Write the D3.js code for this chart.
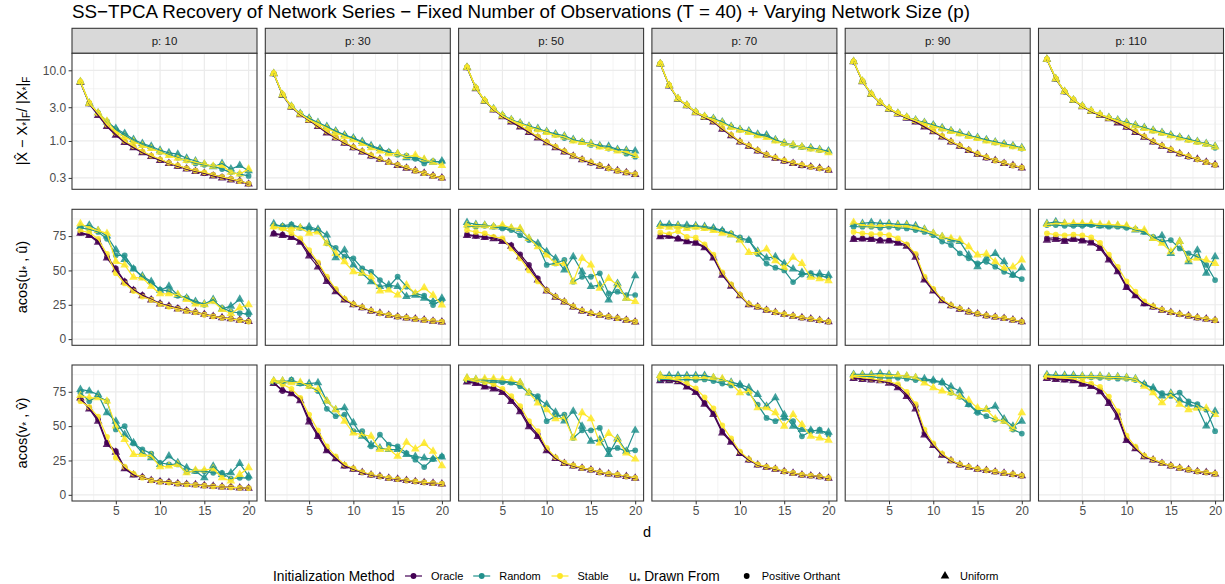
<!DOCTYPE html>
<html>
<head>
<meta charset="utf-8">
<script src="https://cdn.jsdelivr.net/npm/d3@7"></script>
<style>
  body { margin: 0; background: #fff; }
  svg { font-family: "Liberation Sans", Arial, sans-serif; }
</style>
</head>
<body>
<svg id="svg" width="1225" height="584"></svg>
<script>
// ---- data ----
const dValues = [1, 2, 3, 4, 5, 6, 7, 8, 9, 10, 11, 12, 13, 14, 15, 16, 17, 18, 19, 20];
const networkSizes = [10, 30, 50, 70, 90, 110];
const methods = ["Oracle", "Random", "Stable"];
const drawnFrom = ["Positive Orthant", "Uniform"];
const errTicks = [0.3, 1, 3, 10];
const angleTicks = [0, 25, 50, 75];
const dTicks = [5, 10, 15, 20];

// row 1: relative Frobenius error, one array per network size (p = 10 ... 110)
const errOracleOrth = [
  [6.8, 3.4, 2.4, 1.65, 1.25, 0.98, 0.82, 0.70, 0.61, 0.54, 0.49, 0.44, 0.41, 0.38, 0.35, 0.33, 0.31, 0.29, 0.27, 0.25],
  [9.0, 4.5, 3.05, 2.4, 1.98, 1.64, 1.34, 1.12, 0.95, 0.81, 0.71, 0.62, 0.555, 0.50, 0.46, 0.42, 0.38, 0.35, 0.32, 0.30],
  [11.0, 5.6, 3.7, 2.8, 2.25, 1.9, 1.62, 1.36, 1.14, 0.96, 0.82, 0.71, 0.62, 0.55, 0.49, 0.45, 0.41, 0.38, 0.36, 0.34],
  [12.4, 6.1, 3.95, 3.2, 2.55, 2.2, 1.9, 1.5, 1.2, 0.98, 0.85, 0.73, 0.64, 0.57, 0.52, 0.49, 0.45, 0.43, 0.41, 0.39],
  [13.3, 7.0, 4.6, 3.5, 2.85, 2.45, 2.15, 1.9, 1.62, 1.38, 1.16, 0.98, 0.85, 0.74, 0.65, 0.58, 0.53, 0.49, 0.45, 0.42],
  [14.3, 7.6, 5.0, 3.8, 3.1, 2.65, 2.35, 2.1, 1.85, 1.6, 1.35, 1.15, 0.98, 0.85, 0.75, 0.66, 0.60, 0.55, 0.50, 0.46]
];
const errOracleUnif = [
  [6.7, 3.35, 2.3, 1.6, 1.2, 0.95, 0.80, 0.68, 0.60, 0.53, 0.48, 0.44, 0.40, 0.37, 0.35, 0.32, 0.30, 0.28, 0.27, 0.245],
  [8.9, 4.4, 3.0, 2.35, 1.95, 1.6, 1.3, 1.1, 0.93, 0.80, 0.70, 0.61, 0.55, 0.50, 0.45, 0.41, 0.38, 0.35, 0.32, 0.30],
  [10.9, 5.5, 3.65, 2.75, 2.2, 1.86, 1.58, 1.32, 1.1, 0.94, 0.80, 0.70, 0.61, 0.54, 0.49, 0.44, 0.41, 0.38, 0.355, 0.335],
  [12.3, 6.0, 3.9, 3.15, 2.5, 2.15, 1.85, 1.46, 1.18, 0.97, 0.84, 0.72, 0.63, 0.57, 0.52, 0.48, 0.45, 0.43, 0.41, 0.385],
  [13.2, 6.9, 4.55, 3.45, 2.8, 2.4, 2.1, 1.85, 1.58, 1.35, 1.14, 0.97, 0.84, 0.73, 0.65, 0.58, 0.53, 0.48, 0.45, 0.415],
  [14.2, 7.5, 4.95, 3.75, 3.05, 2.6, 2.3, 2.06, 1.8, 1.56, 1.32, 1.13, 0.97, 0.84, 0.74, 0.66, 0.60, 0.55, 0.50, 0.46]
];
const errRandomOrth = [
  [6.8, 3.4, 2.5, 1.9, 1.45, 1.2, 1.0, 0.88, 0.80, 0.70, 0.64, 0.58, 0.53, 0.48, 0.46, 0.44, 0.40, 0.36, 0.34, 0.32],
  [9.0, 4.5, 3.05, 2.45, 2.05, 1.78, 1.56, 1.36, 1.2, 1.08, 0.95, 0.82, 0.76, 0.70, 0.64, 0.62, 0.56, 0.48, 0.52, 0.50],
  [11.0, 5.6, 3.7, 2.8, 2.3, 1.98, 1.78, 1.6, 1.46, 1.34, 1.22, 1.1, 1.02, 0.98, 0.88, 0.84, 0.78, 0.74, 0.66, 0.60],
  [12.4, 6.1, 3.95, 3.2, 2.55, 2.2, 2.05, 1.82, 1.58, 1.44, 1.34, 1.22, 1.16, 1.02, 0.92, 0.86, 0.82, 0.78, 0.74, 0.70],
  [13.3, 7.0, 4.6, 3.5, 2.85, 2.45, 2.15, 1.95, 1.8, 1.66, 1.5, 1.38, 1.28, 1.18, 1.1, 1.02, 0.95, 0.90, 0.84, 0.78],
  [14.3, 7.6, 5.0, 3.8, 3.1, 2.65, 2.35, 2.12, 1.95, 1.8, 1.65, 1.52, 1.4, 1.3, 1.2, 1.12, 1.04, 0.97, 0.90, 0.80]
];
const errRandomUnif = [
  [6.9, 3.45, 2.5, 1.85, 1.5, 1.28, 1.05, 0.92, 0.84, 0.74, 0.68, 0.65, 0.57, 0.52, 0.47, 0.43, 0.48, 0.40, 0.45, 0.38],
  [9.0, 4.5, 3.1, 2.45, 2.1, 1.82, 1.6, 1.38, 1.22, 1.1, 0.98, 0.86, 0.78, 0.69, 0.66, 0.58, 0.58, 0.54, 0.50, 0.52],
  [11.0, 5.6, 3.7, 2.85, 2.32, 2.0, 1.8, 1.62, 1.5, 1.36, 1.26, 1.18, 1.05, 0.96, 0.92, 0.86, 0.84, 0.76, 0.74, 0.72],
  [12.4, 6.1, 3.95, 3.2, 2.58, 2.22, 2.08, 1.86, 1.6, 1.46, 1.38, 1.25, 1.22, 1.04, 0.94, 0.88, 0.82, 0.80, 0.76, 0.72],
  [13.3, 7.0, 4.6, 3.5, 2.86, 2.47, 2.17, 1.98, 1.82, 1.68, 1.54, 1.4, 1.3, 1.2, 1.12, 1.04, 0.97, 0.91, 0.86, 0.80],
  [14.3, 7.6, 5.0, 3.8, 3.12, 2.67, 2.37, 2.15, 1.98, 1.82, 1.68, 1.55, 1.42, 1.32, 1.22, 1.13, 1.06, 0.98, 0.92, 0.84]
];
const errStableOrth = [
  [6.9, 3.5, 2.45, 1.7, 1.3, 1.0, 0.84, 0.71, 0.62, 0.55, 0.49, 0.45, 0.41, 0.38, 0.36, 0.33, 0.31, 0.29, 0.27, 0.25],
  [9.1, 4.6, 3.1, 2.42, 2.0, 1.66, 1.36, 1.13, 0.96, 0.82, 0.72, 0.63, 0.56, 0.50, 0.46, 0.42, 0.38, 0.35, 0.32, 0.30],
  [11.1, 5.7, 3.75, 2.85, 2.28, 1.93, 1.65, 1.38, 1.15, 0.97, 0.83, 0.72, 0.62, 0.55, 0.50, 0.45, 0.41, 0.38, 0.36, 0.34],
  [12.5, 6.2, 4.0, 3.22, 2.58, 2.22, 1.92, 1.52, 1.22, 0.99, 0.86, 0.74, 0.64, 0.58, 0.53, 0.49, 0.46, 0.43, 0.41, 0.39],
  [13.4, 7.1, 4.65, 3.52, 2.88, 2.48, 2.18, 1.93, 1.65, 1.4, 1.18, 0.99, 0.86, 0.75, 0.66, 0.59, 0.53, 0.49, 0.45, 0.42],
  [14.4, 7.7, 5.05, 3.85, 3.12, 2.68, 2.38, 2.12, 1.88, 1.62, 1.37, 1.16, 0.99, 0.86, 0.76, 0.67, 0.61, 0.55, 0.50, 0.46]
];
const errStableUnif = [
  [6.9, 3.4, 2.5, 1.9, 1.35, 1.15, 0.98, 0.86, 0.78, 0.70, 0.62, 0.57, 0.53, 0.50, 0.47, 0.44, 0.45, 0.36, 0.34, 0.40],
  [9.0, 4.5, 3.05, 2.4, 2.0, 1.76, 1.52, 1.32, 1.16, 1.04, 0.92, 0.80, 0.72, 0.66, 0.66, 0.60, 0.63, 0.55, 0.50, 0.45],
  [11.0, 5.6, 3.7, 2.8, 2.28, 1.96, 1.76, 1.58, 1.44, 1.32, 1.2, 1.14, 1.0, 0.95, 0.90, 0.82, 0.78, 0.72, 0.70, 0.62],
  [12.4, 6.1, 3.95, 3.2, 2.55, 2.2, 2.02, 1.8, 1.55, 1.42, 1.32, 1.18, 1.12, 1.0, 0.92, 0.88, 0.82, 0.77, 0.74, 0.68],
  [13.3, 7.0, 4.6, 3.5, 2.85, 2.45, 2.15, 1.94, 1.78, 1.62, 1.48, 1.36, 1.26, 1.16, 1.08, 1.0, 0.94, 0.88, 0.83, 0.78],
  [14.3, 7.6, 5.0, 3.8, 3.1, 2.65, 2.35, 2.12, 1.94, 1.78, 1.64, 1.5, 1.38, 1.28, 1.18, 1.1, 1.02, 0.96, 0.90, 0.82]
];

// row 2: angle between u* and u-hat (degrees)
const angUOracleOrth = [
  [77.5, 76, 71.5, 60, 51.5, 42, 36, 32, 29, 26, 24, 22.5, 21, 19.7, 18, 16.8, 15.6, 15, 14, 13],
  [77, 76, 74.5, 71.5, 62.5, 55, 44, 35.7, 29, 25.3, 23.1, 20.5, 18.8, 17.6, 16.4, 15.6, 14.7, 14, 13.2, 12.7],
  [76.2, 75.2, 74.5, 73.8, 72, 68.5, 61.7, 54, 44.2, 35.7, 31, 27.3, 23.6, 20.5, 18.8, 17.6, 16.4, 15.2, 14, 12.7],
  [75.2, 75.2, 73.3, 71.4, 70.4, 67.2, 60, 47.9, 39.4, 32.1, 25.3, 23.6, 21.2, 19.5, 18.1, 16.8, 15.6, 14.7, 13.7, 12.7],
  [73.3, 73.3, 73.3, 72.1, 72.1, 70.4, 68.5, 61.2, 44.2, 35.7, 28.5, 24.4, 22, 20, 18.5, 17.1, 16.1, 15.2, 14, 12.7],
  [73.3, 73.8, 72.1, 73.3, 72.1, 70.9, 67.2, 58.8, 50.3, 38.2, 32.1, 26, 23.6, 21.2, 19.5, 18.1, 16.9, 15.6, 14.7, 13.7]
];
const angUOracleUnif = [
  [77, 75.5, 70.5, 59, 50.5, 41.5, 35.5, 31.5, 28.5, 25.5, 24, 22, 20.5, 19.5, 18, 16.5, 15.5, 14.8, 13.8, 12.8],
  [76.5, 75.5, 74, 70.5, 60.5, 52.5, 42, 34.5, 28.5, 25, 22.8, 20.5, 18.8, 17.4, 16.2, 15.4, 14.6, 13.9, 13, 12.4],
  [75.5, 74.8, 74, 73, 71, 67.5, 60, 52, 43, 35, 30.5, 27, 23.4, 20.5, 18.6, 17.4, 16.2, 15, 13.8, 12.5],
  [74.5, 74.8, 72.8, 70.8, 69.8, 66.5, 59, 46.5, 38.5, 31.5, 25, 23.4, 21, 19.4, 18, 16.7, 15.5, 14.6, 13.6, 12.6],
  [72.5, 72.8, 72.5, 71.5, 71.5, 69.8, 67.5, 59.5, 43, 35, 28, 24.2, 21.8, 19.8, 18.4, 17, 16, 15.1, 13.9, 12.6],
  [72, 72.5, 71, 72.5, 71.5, 70, 66, 57.5, 49, 37.5, 31.5, 25.8, 23.4, 21, 19.4, 18, 16.8, 15.5, 14.6, 13.6]
];
const angURandomOrth = [
  [81, 80, 78, 73, 61, 61, 51.5, 45, 41, 36, 35, 31.5, 30, 26.5, 25, 28, 22.8, 20, 19, 18],
  [82.5, 82.5, 83.5, 81, 80, 79.4, 69.7, 66.5, 60, 58.8, 51.5, 49, 43, 38.2, 45.4, 38.2, 33.3, 31.6, 24.8, 28.5],
  [82.5, 81.8, 82.5, 81.8, 80.6, 79.4, 75.7, 72.1, 68.5, 54, 55.1, 57.6, 41.8, 45.4, 45.4, 47.9, 33.3, 34.5, 32.1, 32.1],
  [82.5, 82.5, 82, 81.5, 82, 81, 80, 79, 77, 74, 72, 62, 55, 52, 50, 41.5, 47, 48, 46, 45],
  [81.8, 81.8, 81.8, 81, 81.8, 81, 80.6, 79.4, 78, 75.7, 71, 68.5, 62.4, 58.8, 55.1, 56.3, 52.7, 49, 46.6, 43.7],
  [83, 83, 82.5, 82.5, 82.5, 83, 82.5, 81.8, 81.8, 81, 80, 78, 74.5, 71, 72.1, 66, 62.4, 60, 54, 43]
];
const angURandomUnif = [
  [82, 83, 79, 75, 65, 58, 51, 46, 42, 35.5, 38.5, 32, 30, 27.5, 25.5, 28.8, 22, 24, 29, 19.5],
  [84, 81.8, 82.5, 81, 81.8, 80, 75.7, 59.3, 64.8, 54, 47.9, 41.8, 38.2, 39.4, 38.2, 31, 32, 29.7, 27.3, 29.7],
  [84.9, 83.5, 83, 81.8, 81.5, 80.6, 80, 73.3, 69.7, 63.6, 58.8, 50.3, 60, 49, 38.2, 39.4, 28.5, 40.6, 29.7, 46.2],
  [83.5, 83.5, 83, 83, 82.5, 82, 81, 79, 76, 72.5, 72, 64, 59, 60, 55, 51, 48.5, 46.5, 47.5, 46.5],
  [83.5, 84.2, 85, 84.2, 84.2, 83.5, 83.5, 82.5, 80, 77, 74.5, 72.1, 71, 61.2, 52.7, 58.8, 62.4, 56.3, 46.6, 52],
  [84.2, 85.4, 84.2, 83.5, 83.5, 83.5, 82.5, 82.5, 82.5, 81.8, 79.4, 78, 73.3, 75.2, 62.4, 71, 56.3, 64.8, 47.9, 60]
];
const angUStableOrth = [
  [79, 77.5, 73, 62, 48, 40.5, 35, 31, 28.5, 25.5, 23.5, 22, 20.5, 19.5, 17.8, 16.5, 15.5, 14.8, 13.8, 12.8],
  [81.8, 80.6, 77, 73.3, 64.8, 55.9, 45.5, 36.5, 29.5, 25.5, 23.2, 20.8, 18.9, 17.6, 16.4, 15.6, 14.7, 14, 13.2, 12.7],
  [79.4, 78, 77, 74.5, 73.3, 66, 58.8, 50, 42, 35.5, 31, 27.4, 23.8, 20.8, 18.9, 17.6, 16.4, 15.2, 14, 12.7],
  [77.7, 76.5, 78.6, 74.5, 73.8, 69, 61.5, 48.5, 39.8, 32.3, 25.6, 23.7, 21.3, 19.6, 18.2, 16.9, 15.7, 14.8, 13.8, 12.8],
  [78, 77, 76.5, 76.5, 75.7, 73.3, 69, 62, 45.5, 36.5, 29, 24.7, 22.2, 20.1, 18.6, 17.2, 16.2, 15.3, 14.1, 12.8],
  [77, 76, 75.5, 76, 75.5, 74, 70, 61.5, 52.5, 42, 34.5, 27.5, 24, 21.4, 19.7, 18.2, 17, 15.8, 14.8, 13.8]
];
const angUStableUnif = [
  [84, 81, 79, 77, 56.5, 54, 45, 44.5, 38.5, 33, 33, 32.5, 28.8, 25.5, 25, 27.6, 21.6, 18.7, 22.8, 25],
  [81.8, 81, 80.6, 81, 77, 78, 69.7, 62.4, 56.3, 49, 47.9, 45.4, 35, 35.7, 32.1, 39.4, 33.3, 37.4, 32, 24.8],
  [83, 82.5, 82.5, 81.8, 83, 81, 80.6, 73.3, 67.2, 61.2, 55.1, 55.1, 41.8, 58.8, 54, 37, 44.2, 39.4, 29.7, 27.3],
  [82, 81.5, 82, 80.5, 81.5, 80.5, 79, 77, 76, 72, 63, 63, 65.5, 57, 52, 59.5, 55, 45, 44, 42.5],
  [85, 83, 82.5, 82.5, 83, 82.5, 82.5, 81, 79.4, 77, 74.5, 73.3, 72.1, 67.2, 61.2, 62, 56.3, 51.5, 52.5, 57.6],
  [83.5, 84.2, 84.2, 84.2, 84.2, 84.2, 83.5, 83.5, 83, 82.5, 80, 79.4, 73.3, 69.7, 63.6, 71, 57.6, 58.8, 57.6, 55.1]
];

// row 3: angle between v* and v-hat (degrees)
const angVOracleOrth = [
  [69.4, 63.3, 55, 38, 31.8, 19.7, 14.8, 12.9, 10.7, 9.7, 9.2, 8.3, 7.8, 7.5, 6.8, 6.3, 5.8, 5.6, 5.1, 4.9],
  [81.6, 75.5, 74.3, 69.4, 54.8, 43.8, 32.9, 26.8, 21.2, 18.8, 16.3, 14.6, 13.4, 12.2, 11.4, 10.5, 9.7, 9, 8.5, 8],
  [82.8, 81.6, 79.1, 77.9, 75.5, 69.4, 62.1, 51.1, 43.8, 32.9, 26.8, 23.1, 21.2, 19.5, 18.3, 16.3, 15.3, 14.6, 13.4, 12.2],
  [83.5, 83.5, 82.8, 79.1, 75.5, 67, 59.7, 46.3, 39, 30.4, 25.6, 21.9, 20.2, 18.8, 17, 15.8, 14.6, 13.9, 13.4, 12.2],
  [85.2, 84.5, 84, 83.5, 82, 79.1, 73, 64.5, 45, 36.5, 29.3, 25.1, 21.9, 20.2, 18.8, 17.8, 16.8, 15.8, 14.9, 13.9],
  [85.2, 84.5, 84, 83.5, 81.1, 79.6, 76.2, 68.2, 58.4, 40.7, 34.1, 28, 25.6, 23.1, 21.2, 19.5, 18.3, 17, 16.3, 15.3]
];
const angVOracleUnif = [
  [70.5, 62.5, 53.5, 36.7, 31, 19, 14.5, 12.6, 10.5, 9.5, 9, 8.1, 7.6, 7.3, 6.6, 6.2, 5.7, 5.5, 5, 4.7],
  [81, 76.5, 73.5, 68.5, 53, 42.5, 32, 26.3, 21, 18.6, 16.2, 14.5, 13.3, 12.1, 11.3, 10.4, 9.6, 8.9, 8.4, 7.9],
  [82.2, 81, 78.5, 77, 74.5, 68, 60.5, 49.5, 42.5, 32, 26.4, 22.8, 21, 19.3, 18.1, 16.2, 15.2, 14.5, 13.3, 12],
  [83, 83, 82.3, 78.5, 74.5, 66, 58.5, 45, 38.3, 30, 25.3, 21.7, 20, 18.6, 16.9, 15.7, 14.5, 13.8, 13.2, 12],
  [84.7, 84, 83.5, 83, 81.2, 78, 71.5, 62.5, 43.5, 35.8, 28.8, 24.8, 21.7, 20, 18.6, 17.7, 16.7, 15.7, 14.8, 13.8],
  [84.7, 84, 83.5, 83, 80.5, 78.8, 75, 66.5, 56.5, 39.5, 33.5, 27.7, 25.3, 22.9, 21, 19.4, 18.2, 16.9, 16.2, 15.1]
];
const angVRandomOrth = [
  [74.3, 68.2, 71.8, 68.2, 47.6, 50, 37.4, 33, 30, 23.3, 22.1, 22.1, 16.5, 17.2, 17.2, 16, 16, 11.7, 12.4, 12.4],
  [82, 81, 83.9, 81, 79.1, 75.5, 62.6, 57.2, 58.4, 46.3, 46.3, 35.3, 43.8, 36.5, 35.3, 30.4, 25.6, 20.2, 26, 28],
  [83.5, 82.8, 82, 82, 82, 81.6, 79.1, 74.3, 71.8, 53.6, 57.2, 58.4, 41.4, 47, 47, 48.7, 32.9, 34.1, 31.7, 32.4],
  [84, 84, 83.5, 84, 83.5, 84, 82.8, 81, 79.6, 79.6, 74.3, 65.7, 56, 53.6, 56, 53.6, 42.6, 46.3, 47.5, 43.8],
  [86.9, 86.4, 86, 85.2, 85.2, 85.2, 84.5, 83.5, 83.5, 82.8, 81.6, 74.3, 71.3, 65.7, 59.7, 57.2, 54.8, 53.6, 47.5, 44.6],
  [86.5, 86, 86, 85.5, 85.5, 85.5, 85.2, 85.2, 84.5, 84.5, 83.5, 80.5, 77, 74, 72, 74.3, 68, 66, 62, 46.3]
];
const angVRandomUnif = [
  [76.7, 75.5, 73.1, 59.7, 53.6, 43.9, 37.9, 30.6, 27, 22.1, 28.2, 23.3, 19.7, 17.2, 12.4, 20.9, 14.8, 16, 22.8, 13.6],
  [82.8, 82.8, 82.8, 81, 81, 81.6, 68.2, 62, 63.3, 52.4, 42.6, 36.5, 34.1, 32.9, 32.9, 29.3, 28, 26.8, 26, 27.5],
  [84.8, 84, 83.5, 83.2, 82.8, 82, 81.6, 74.3, 70, 65.7, 60.1, 53.8, 60.9, 49.9, 39, 40.2, 29.3, 41.1, 31.7, 46.9],
  [86.9, 86.9, 86.9, 86.9, 86.9, 86.9, 85.2, 84, 82, 80.4, 77.9, 73, 64.5, 70.6, 58.4, 49.9, 47.5, 47, 46.3, 45.5],
  [87.7, 87.7, 87.7, 88.4, 87.7, 86.9, 86.4, 85.2, 84.5, 83.5, 82, 78.7, 75.5, 65.7, 60.9, 62.1, 64.5, 55.3, 49.9, 53.6],
  [87.5, 87, 87, 87, 86.5, 86.5, 86.5, 86, 86, 85.5, 84.5, 80.5, 78, 72, 74, 69, 66, 64, 50, 60.9]
];
const angVStableOrth = [
  [68.2, 64, 57, 42.2, 27, 20.5, 15.5, 12.5, 10.5, 9.4, 8.9, 8.2, 7.6, 7.2, 6.6, 6.1, 5.7, 5.4, 5.0, 4.8],
  [82.8, 80.4, 77.2, 70.6, 58.4, 47, 35.3, 28, 22, 19.2, 16.6, 14.8, 13.5, 12.3, 11.5, 10.6, 9.8, 9.1, 8.6, 8.1],
  [84, 82.8, 82, 80.4, 77.2, 71.8, 64.5, 53.6, 46.3, 34.1, 27.3, 23.4, 21.4, 19.6, 18.4, 16.4, 15.4, 14.7, 13.5, 12.3],
  [85, 84.5, 83.5, 81, 77.5, 71, 63, 50.5, 41, 31.5, 26, 22.2, 20.4, 19, 17.1, 15.9, 14.7, 14, 13.5, 12.3],
  [86, 85.2, 84.5, 83.5, 82.5, 80.5, 75, 66, 47.5, 37.5, 30, 25.3, 22.1, 20.3, 18.9, 17.9, 16.9, 15.9, 15, 14],
  [86, 85.5, 85, 84.5, 82.5, 81, 78.5, 71.5, 61, 43, 35, 28.5, 25.8, 23.3, 21.3, 19.6, 18.4, 17.1, 16.4, 15.4]
];
const angVStableUnif = [
  [72.3, 70.6, 70.6, 68.2, 50, 40.3, 29.4, 29.4, 28.2, 20.4, 20.9, 22.1, 16, 18, 18, 19, 12.4, 10, 14.8, 19.7],
  [82.8, 82.8, 81.6, 82, 79.1, 76.7, 68.2, 62, 53.6, 45, 43.8, 42.6, 32.9, 33.4, 28, 38.2, 33.4, 37.3, 31.7, 21.2],
  [85, 84, 84.5, 84.5, 84, 83.5, 81.6, 74.3, 66.9, 62, 55.3, 56, 41.4, 59.7, 55.3, 37.7, 44.6, 40.2, 30.4, 26],
  [86.9, 85.2, 85.2, 85.2, 85.2, 85.2, 85.2, 84.5, 81, 74.3, 75.5, 63.3, 63.3, 59.7, 49.9, 58.4, 51.1, 42.6, 41.4, 39.7],
  [86.9, 86.9, 86.9, 86.9, 86.9, 86.9, 86.4, 85.2, 81.4, 77.9, 75.5, 74.3, 71.3, 68.9, 63.3, 62.1, 55.3, 53.6, 48, 59.7],
  [86.5, 86, 86, 86, 86, 86, 86, 85.5, 85.5, 85, 84, 79, 74.3, 67, 73, 66, 62, 63, 63, 58.4]
];

// ---- layout ----
const colors = d3.scaleOrdinal().domain(methods).range(["#440154", "#21908C", "#FDE725"]);
const shapes = d3.scaleOrdinal().domain(drawnFrom).range([d3.symbolCircle, d3.symbolTriangle]);
const shapeSize = { "Positive Orthant": 26, "Uniform": 32 };

const panelW = 185, panelH = 136;
const panelLeft = networkSizes.map((p, i) => 72 + i * 193.3);
const rowTop = [53.3, 209.3, 365];

const rows = [
  { log: true, ticks: errTicks, fmt: d3.format(".1f"), minor: [0.548, 1.73, 5.48], domain: [0.207, 17.4],
    series: { Oracle: [errOracleOrth, errOracleUnif], Random: [errRandomOrth, errRandomUnif], Stable: [errStableOrth, errStableUnif] } },
  { log: false, ticks: angleTicks, fmt: d3.format("d"), minor: [12.5, 37.5, 62.5, 87.5], domain: [-4.5, 94.5],
    series: { Oracle: [angUOracleOrth, angUOracleUnif], Random: [angURandomOrth, angURandomUnif], Stable: [angUStableOrth, angUStableUnif] } },
  { log: false, ticks: angleTicks, fmt: d3.format("d"), minor: [12.5, 37.5, 62.5, 87.5], domain: [-4.5, 94.5],
    series: { Oracle: [angVOracleOrth, angVOracleUnif], Random: [angVRandomOrth, angVRandomUnif], Stable: [angVStableOrth, angVStableUnif] } }
];

const svg = d3.select("#svg");
const x = d3.scaleLinear().domain([0.05, 20.95]).range([0, panelW]);

// title
svg.append("text")
  .attr("x", 72).attr("y", 18)
  .attr("font-size", 18.8).attr("fill", "#000")
  .text("SS\u2212TPCA Recovery of Network Series \u2212 Fixed Number of Observations (T = 40) + Varying Network Size (p)");

// strips
networkSizes.forEach((p, c) => {
  const s = svg.append("g").attr("transform", `translate(${panelLeft[c]},28.3)`);
  s.append("rect").attr("width", panelW).attr("height", 25)
    .attr("fill", "#d9d9d9").attr("stroke", "#333").attr("stroke-width", 1.07);
  s.append("text").attr("x", panelW / 2).attr("y", 16.8)
    .attr("text-anchor", "middle").attr("font-size", 11.5).attr("fill", "#1a1a1a")
    .text("p: " + p);
});

rows.forEach((row, r) => {
  const y = (row.log ? d3.scaleLog() : d3.scaleLinear()).domain(row.domain).range([panelH, 0]);

  networkSizes.forEach((p, c) => {
    const g = svg.append("g").attr("transform", `translate(${panelLeft[c]},${rowTop[r]})`);
    g.append("rect").attr("width", panelW).attr("height", panelH).attr("fill", "#fff");

    // grid
    const grid = g.append("g").attr("stroke", "#ebebeb");
    grid.selectAll(".xmin").data([2.5, 7.5, 12.5, 17.5]).join("line")
      .attr("x1", d => x(d)).attr("x2", d => x(d)).attr("y1", 0).attr("y2", panelH).attr("stroke-width", 0.6);
    grid.selectAll(".ymin").data(row.minor).join("line").attr("class", "ymin")
      .attr("y1", d => y(d)).attr("y2", d => y(d)).attr("x1", 0).attr("x2", panelW).attr("stroke-width", 0.6);
    grid.selectAll(".xmaj").data(dTicks).join("line").attr("class", "xmaj")
      .attr("x1", d => x(d)).attr("x2", d => x(d)).attr("y1", 0).attr("y2", panelH).attr("stroke-width", 1.2);
    grid.selectAll(".ymaj").data(row.ticks).join("line").attr("class", "ymaj")
      .attr("y1", d => y(d)).attr("y2", d => y(d)).attr("x1", 0).attr("x2", panelW).attr("stroke-width", 1.2);

    const line = d3.line().x((v, i) => x(dValues[i])).y(v => y(v));

    methods.forEach(m => {
      drawnFrom.forEach((shape, k) => {
        const vals = row.series[m][k][c];
        g.append("g").selectAll("path").data(vals).join("path")
          .attr("d", d3.symbol().type(shapes(shape)).size(shapeSize[shape]))
          .attr("transform", (v, i) => `translate(${x(dValues[i])},${y(v)})`)
          .attr("fill", colors(m)).attr("fill-opacity", 0.85);
      });
    });
    methods.forEach(m => {
      drawnFrom.forEach((shape, k) => {
        const vals = row.series[m][k][c];
        g.append("path").datum(vals).attr("d", line)
          .attr("fill", "none").attr("stroke", colors(m)).attr("stroke-width", 1.2);
      });
    });

    g.append("rect").attr("width", panelW).attr("height", panelH)
      .attr("fill", "none").attr("stroke", "#333").attr("stroke-width", 1.07);

    if (c === 0) {
      const ax = g.append("g").call(d3.axisLeft(y).tickValues(row.ticks).tickFormat(row.fmt).tickSize(3.4).tickPadding(2.5));
      ax.select(".domain").remove();
      ax.selectAll("line").attr("stroke", "#333");
      ax.selectAll("text").attr("fill", "#4d4d4d").attr("font-size", 12).attr("font-family", null);
    }
    if (r === rows.length - 1) {
      const ax = g.append("g").attr("transform", `translate(0,${panelH})`)
        .call(d3.axisBottom(x).tickValues(dTicks).tickSize(3.4).tickPadding(2.5));
      ax.select(".domain").remove();
      ax.selectAll("line").attr("stroke", "#333");
      ax.selectAll("text").attr("fill", "#4d4d4d").attr("font-size", 12).attr("font-family", null);
    }
  });
});

// y axis titles (with subscripts)
function yTitle(cy, parts) {
  const t = svg.append("text")
    .attr("transform", `translate(27,${cy}) rotate(-90)`)
    .attr("text-anchor", "middle").attr("font-size", 14.5).attr("fill", "#000");
  parts.forEach(([txt, sub]) => {
    const ts = t.append("tspan").text(txt);
    if (sub) ts.attr("font-size", 10).attr("baseline-shift", "-25%");
  });
}
yTitle(121, [["|X\u0302 \u2212 X", 0], ["*", 1], ["|", 0], ["F", 1], ["/ |X", 0], ["*", 1], ["|", 0], ["F", 1]]);
yTitle(277, [["acos(u", 0], ["*", 1], [" , u\u0302)", 0]]);
yTitle(433, [["acos(v", 0], ["*", 1], [" , v\u0302)", 0]]);

// x axis title
svg.append("text").attr("x", 647).attr("y", 537)
  .attr("text-anchor", "middle").attr("font-size", 14.5).text("d");

// legend
const legY = 576;
const leg = svg.append("g");
leg.append("text").attr("x", 273).attr("y", legY + 5).attr("font-size", 13.75).text("Initialization Method");
const keyX = [413.5, 481.7, 560];
methods.forEach((m, i) => {
  leg.append("line").attr("x1", keyX[i] - 8.5).attr("x2", keyX[i] + 8.5).attr("y1", legY).attr("y2", legY)
    .attr("stroke", colors(m)).attr("stroke-width", 1.2);
  leg.append("path").attr("d", d3.symbol().type(d3.symbolCircle).size(26)())
    .attr("transform", `translate(${keyX[i]},${legY})`).attr("fill", colors(m));
  leg.append("text").attr("x", keyX[i] + 17.5).attr("y", legY + 4).attr("font-size", 11).text(m);
});
const shTitle = leg.append("text").attr("x", 629).attr("y", legY + 5).attr("font-size", 13.75);
shTitle.append("tspan").text("u");
shTitle.append("tspan").attr("font-size", 9.5).attr("baseline-shift", "-25%").text("*");
shTitle.append("tspan").text(" Drawn From");
const shapeX = [746.7, 945];
drawnFrom.forEach((s, i) => {
  leg.append("path").attr("d", d3.symbol().type(shapes(s)).size(shapeSize[s])())
    .attr("transform", `translate(${shapeX[i]},${legY})`).attr("fill", "#000");
  leg.append("text").attr("x", shapeX[i] + 15).attr("y", legY + 4).attr("font-size", 11).text(s);
});
</script>
</body>
</html>
